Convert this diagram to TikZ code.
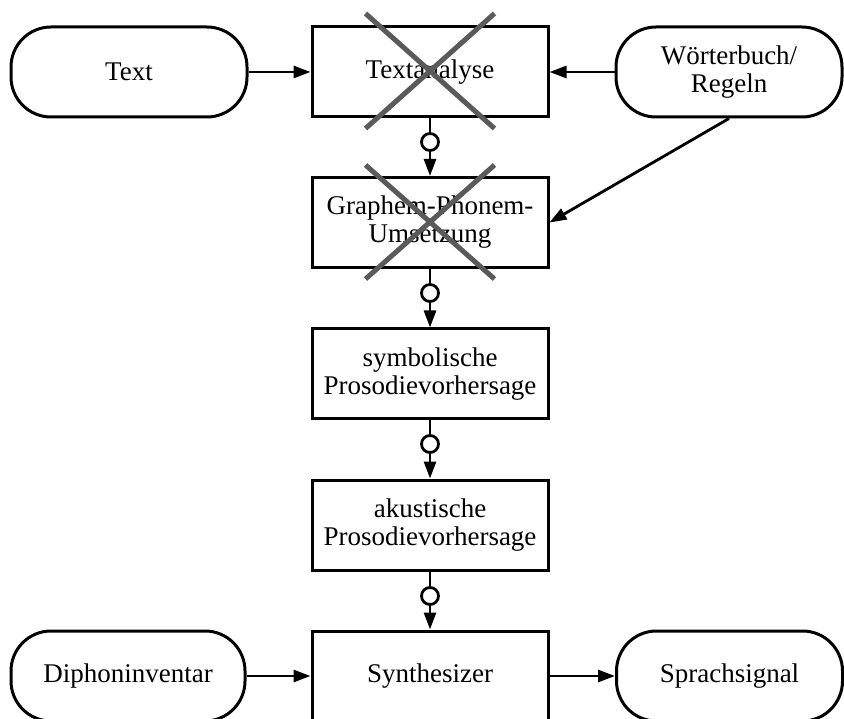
\documentclass[tikz,border=0pt]{standalone}
\usepackage{fontspec}
\setmainfont{Liberation Serif}
\usetikzlibrary{arrows.meta}
\newcommand{\dfont}{\fontsize{27pt}{28pt}\selectfont}
\begin{document}
\begin{tikzpicture}[x=1pt,y=-1pt,
  proc/.style={draw, line width=3pt, minimum width=236pt, minimum height=90pt,
    align=center, inner sep=0pt, font=\dfont},
  term/.style={proc, rounded corners=40pt},
  link/.style={line width=2.8pt},
  conn/.style={line width=2.8pt, -{Triangle[length=17pt,width=12pt]}},
  ring/.style={circle, draw, line width=2.8pt, fill=white, minimum size=17pt, inner sep=0pt},
  cross/.style={line width=5pt, draw={rgb,255:red,90;green,90;blue,90}}]
\useasboundingbox (0,0) rectangle (844,719);

% main column
\node[proc] (ta) at (430,72) {Textanalyse};
\node[proc] (gp) at (430,222.5) {Graphem-Phonem-\\Umsetzung};
\node[proc] (sp) at (430,374) {symbolische\\Prosodievorhersage};
\node[proc] (ap) at (430,525) {akustische\\Prosodievorhersage};
\node[proc] (sy) at (430,676) {Synthesizer};

% terminals
\node[term] (tx) at (129,72) {Text};
\node[term, minimum width=226pt] (wb) at (729,72) {Wörterbuch/\\Regeln};
\node[term, minimum width=234pt] (di) at (128,676) {Diphoninventar};
\node[term, minimum width=226pt] (ss) at (729.5,676) {Sprachsignal};

% rings
\node[ring] (r1) at (430,142) {};
\node[ring] (r2) at (430,293) {};
\node[ring] (r3) at (430,444) {};
\node[ring] (r4) at (430,596) {};

% connectors
\draw[conn] (tx.east) -- (ta.west);
\draw[conn] (wb.west) -- (ta.east);
\draw[conn] (wb.south) -- (gp.east);
\draw[link] (ta.south) -- (r1.north);
\draw[conn] (r1.south) -- (gp.north);
\draw[link] (gp.south) -- (r2.north);
\draw[conn] (r2.south) -- (sp.north);
\draw[link] (sp.south) -- (r3.north);
\draw[conn] (r3.south) -- (ap.north);
\draw[link] (ap.south) -- (r4.north);
\draw[conn] (r4.south) -- (sy.north);
\draw[conn] (di.east) -- (sy.west);
\draw[conn] (sy.east) -- (ss.west);

% crosses
\draw[cross] ([shift={(-64.5,-58.5)}]ta.center) -- ([shift={(64.5,56.5)}]ta.center);
\draw[cross] ([shift={(64.5,-58.5)}]ta.center) -- ([shift={(-64.5,56.5)}]ta.center);
\draw[cross] ([shift={(-64.5,-57.5)}]gp.center) -- ([shift={(64.5,56.5)}]gp.center);
\draw[cross] ([shift={(64.5,-57.5)}]gp.center) -- ([shift={(-64.5,56.5)}]gp.center);
\end{tikzpicture}
\end{document}
